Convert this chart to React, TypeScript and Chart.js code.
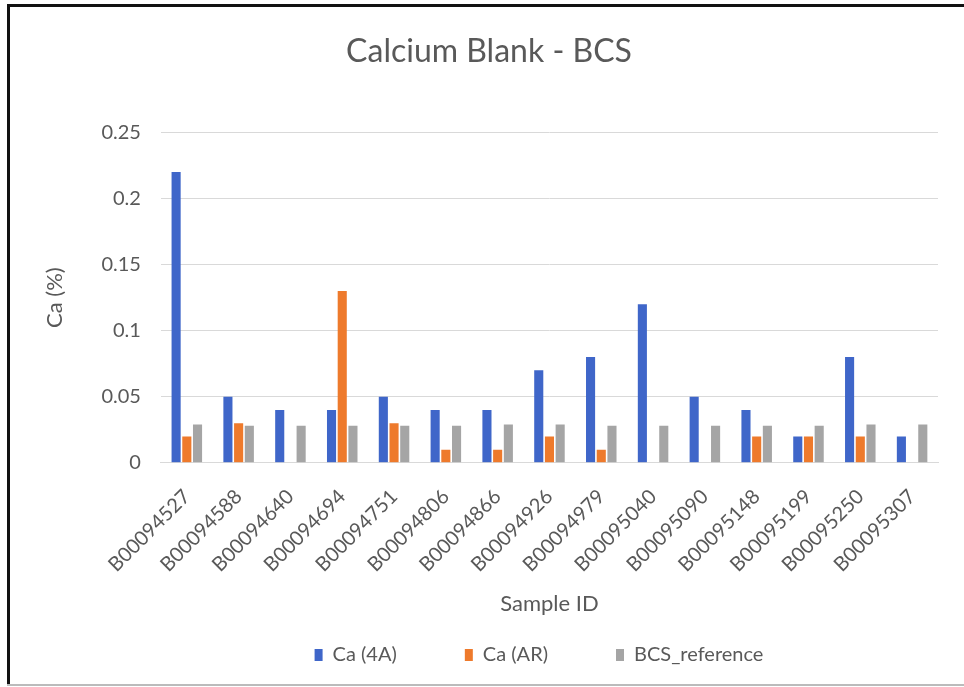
import React, { useEffect, useRef } from "react";
import { Chart, registerables } from "chart.js";

Chart.register(...registerables);

const sampleIds = [
  "B00094527", "B00094588", "B00094640", "B00094694", "B00094751",
  "B00094806", "B00094866", "B00094926", "B00094979", "B00095040",
  "B00095090", "B00095148", "B00095199", "B00095250", "B00095307",
];
const ca4A = [0.22, 0.05, 0.04, 0.04, 0.05, 0.04, 0.04, 0.07, 0.08, 0.12, 0.05, 0.04, 0.02, 0.08, 0.02];
const caAR = [0.02, 0.03, null, 0.13, 0.03, 0.01, 0.01, 0.02, 0.01, null, null, 0.02, 0.02, 0.02, null];
const bcsRef = [0.029, 0.028, 0.028, 0.028, 0.028, 0.028, 0.029, 0.029, 0.028, 0.028, 0.028, 0.028, 0.028, 0.029, 0.029];

const FONT = "Lato, 'Open Sans', sans-serif";
const TXT = "#595959";
const LEGEND_TRIM = 40;
const LEGEND_SHIFT = 50;

// keeps wide horizontal spacing between legend items while trimming the space above them
const legendTrim = {
  id: "legendTrim",
  beforeLayout(chart: any) {
    const lg = chart.legend;
    if (lg && !lg._trimmed) {
      const fit = lg.fit.bind(lg);
      const draw = lg.draw.bind(lg);
      lg.fit = function () {
        fit();
        this.height -= LEGEND_TRIM;
      };
      lg.draw = function (area: any) {
        const t = this.top, l = this.left, r = this.right;
        this.top -= LEGEND_TRIM;
        this.left += LEGEND_SHIFT;
        this.right += LEGEND_SHIFT;
        draw(area);
        this.top = t;
        this.left = l;
        this.right = r;
      };
      lg._trimmed = true;
    }
  },
};

export default function App() {
  const ref = useRef<HTMLCanvasElement | null>(null);
  useEffect(() => {
    if (!ref.current) return;
    const chart = new Chart(ref.current, {
      type: "bar",
      data: {
        labels: sampleIds,
        datasets: [
          { label: "Ca (4A)", data: ca4A, backgroundColor: "#3F66C9" },
          { label: "Ca (AR)", data: caAR as any, backgroundColor: "#EE7A2C" },
          { label: "BCS_reference", data: bcsRef, backgroundColor: "#A5A5A5" },
        ],
      },
      plugins: [legendTrim],
      options: {
        animation: false,
        responsive: false,
        maintainAspectRatio: false,
        layout: { padding: { top: 30, left: 40, right: 26, bottom: 12 } },
        datasets: { bar: { categoryPercentage: 0.62, barPercentage: 0.85 } },
        plugins: {
          title: {
            display: true,
            text: "Calcium Blank - BCS",
            color: TXT,
            font: { family: FONT, size: 32, weight: "normal" },
            padding: { top: 2, bottom: 62 },
          },
          legend: {
            position: "bottom",
            labels: {
              color: TXT,
              font: { family: FONT, size: 20 },
              boxWidth: 8,
              boxHeight: 12,
              padding: 68,
            },
          },
          tooltip: { enabled: false },
        },
        scales: {
          x: {
            grid: { display: false },
            border: { display: true, color: "#D9D9D9" },
            ticks: {
              color: TXT,
              font: { family: FONT, size: 20 },
              minRotation: 45,
              maxRotation: 45,
              padding: 14,
            },
            title: {
              display: true,
              text: "Sample ID",
              color: TXT,
              font: { family: FONT, size: 22 },
              padding: { top: 0, bottom: 0 },
            },
          },
          y: {
            min: 0,
            max: 0.25,
            ticks: {
              stepSize: 0.05,
              color: TXT,
              font: { family: FONT, size: 20 },
              padding: 20,
              callback: (v: any) => String(Math.round(Number(v) * 100) / 100),
            },
            grid: { color: "#D9D9D9", drawTicks: false },
            border: { display: false },
            title: {
              display: true,
              text: "Ca (%)",
              color: TXT,
              font: { family: FONT, size: 22 },
              padding: { top: 2, bottom: 13 },
            },
          },
        },
      },
    });
    return () => chart.destroy();
  }, []);
  return (
    <div style={{ position: "absolute", left: 0, top: 0, width: 964, height: 687, background: "#fff" }}>
      <canvas ref={ref} width={964} height={687} style={{ position: "absolute", left: 0, top: 0 }} />
      <div style={{ position: "absolute", left: 7, top: 4, width: 957, height: 3, background: "#111" }} />
      <div style={{ position: "absolute", left: 7, top: 4, width: 3, height: 681, background: "#111" }} />
      <div style={{ position: "absolute", left: 7, top: 684, width: 957, height: 2, background: "#bbb" }} />
    </div>
  );
}
